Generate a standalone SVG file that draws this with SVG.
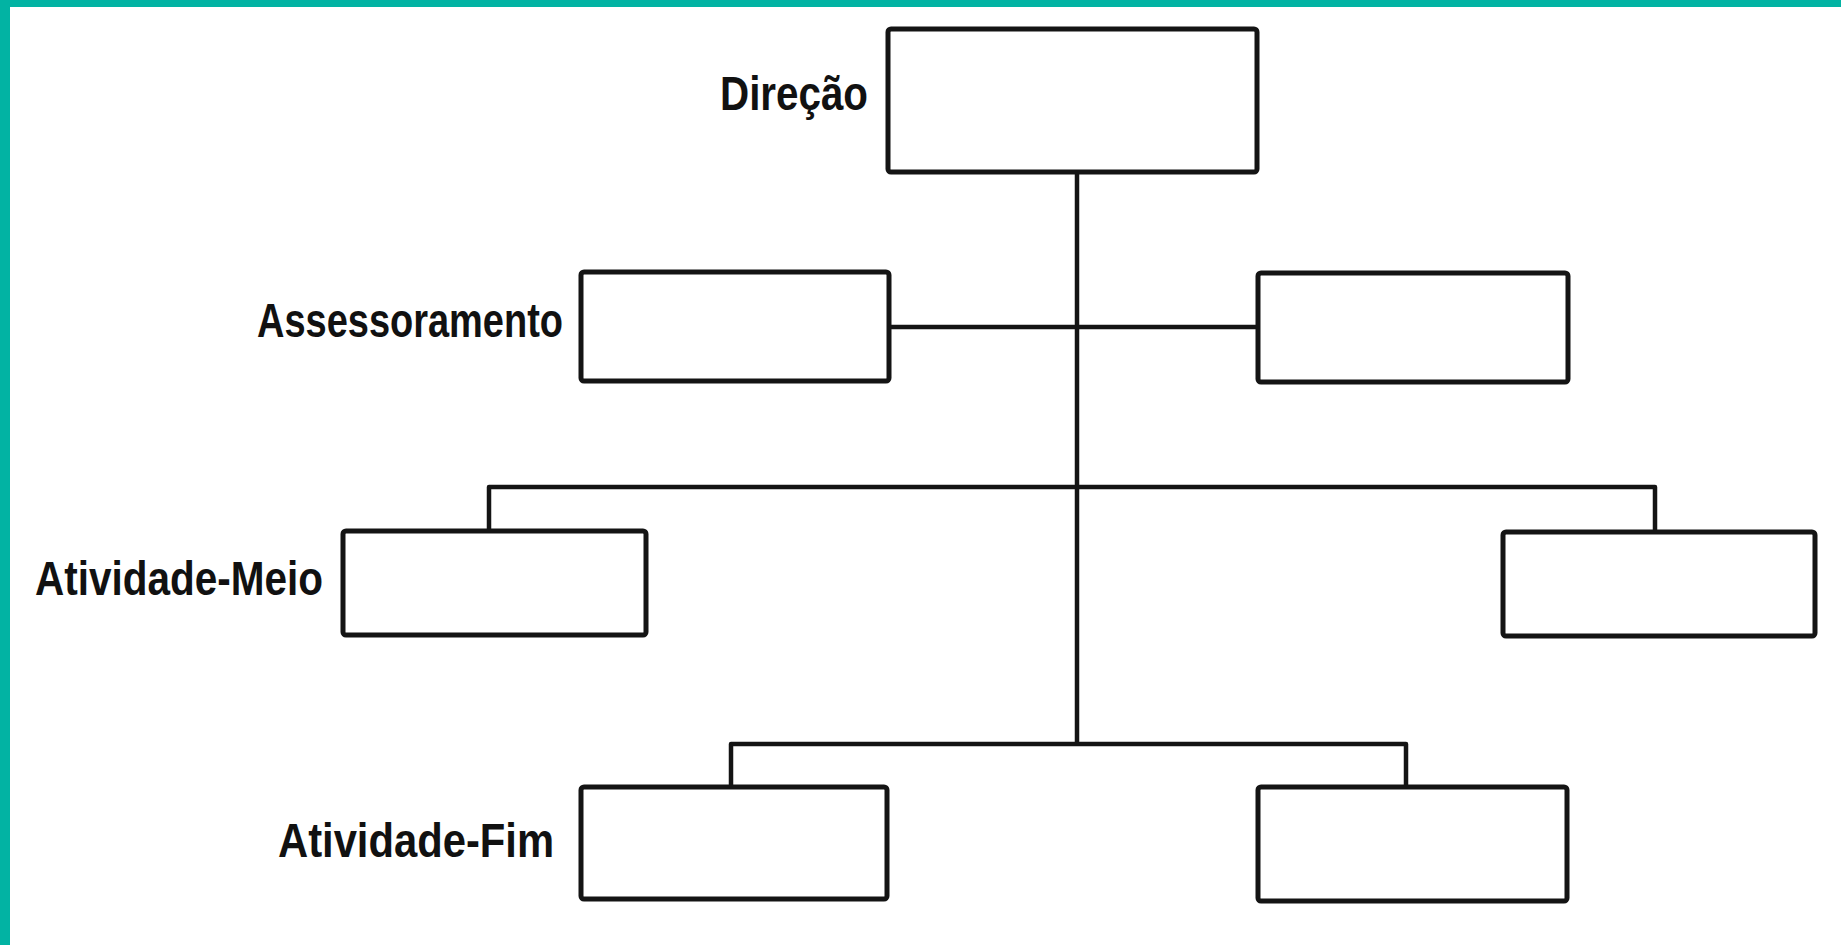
<svg xmlns="http://www.w3.org/2000/svg" width="1841" height="945" viewBox="0 0 1841 945">
<style>
.box{fill:#fff;stroke:#141414;stroke-width:5}
.lbl{font-family:"Liberation Sans",Arial,sans-serif;font-weight:bold;font-size:48px;fill:#111}
.con{fill:none;stroke:#141414;stroke-width:4.5;stroke-linejoin:round}
</style>
<rect x="0" y="0" width="1841" height="945" fill="#fff"/>
<rect x="0" y="0" width="1841" height="7" fill="#02B3A3"/>
<rect x="0" y="0" width="10" height="945" fill="#02B3A3"/>
<g id="connectors">
<path class="con" d="M1077 172 V744"/>
<path class="con" d="M889 327 H1258"/>
<path class="con" d="M489 531 V487 H1655 V532"/>
<path class="con" d="M731 787 V744 H1406 V787"/>
</g>
<g id="direcao">
<rect class="box" x="888" y="29" width="369" height="143" rx="3"/>
<text class="lbl" x="720" y="110" textLength="148" lengthAdjust="spacingAndGlyphs">Direção</text>
</g>
<g id="assessoramento-esq">
<rect class="box" x="581" y="272" width="308" height="109" rx="3"/>
<text class="lbl" x="257" y="337" textLength="306" lengthAdjust="spacingAndGlyphs">Assessoramento</text>
</g>
<g id="assessoramento-dir">
<rect class="box" x="1258" y="273" width="310" height="109" rx="3"/>
</g>
<g id="meio-esq">
<rect class="box" x="343" y="531" width="303" height="104" rx="3"/>
<text class="lbl" x="35" y="595" textLength="288" lengthAdjust="spacingAndGlyphs">Atividade-Meio</text>
</g>
<g id="meio-dir">
<rect class="box" x="1503" y="532" width="312" height="104" rx="3"/>
</g>
<g id="fim-esq">
<rect class="box" x="581" y="787" width="306" height="112" rx="3"/>
<text class="lbl" x="278" y="857" textLength="276" lengthAdjust="spacingAndGlyphs">Atividade-Fim</text>
</g>
<g id="fim-dir">
<rect class="box" x="1258" y="787" width="309" height="114" rx="3"/>
</g>
</svg>
